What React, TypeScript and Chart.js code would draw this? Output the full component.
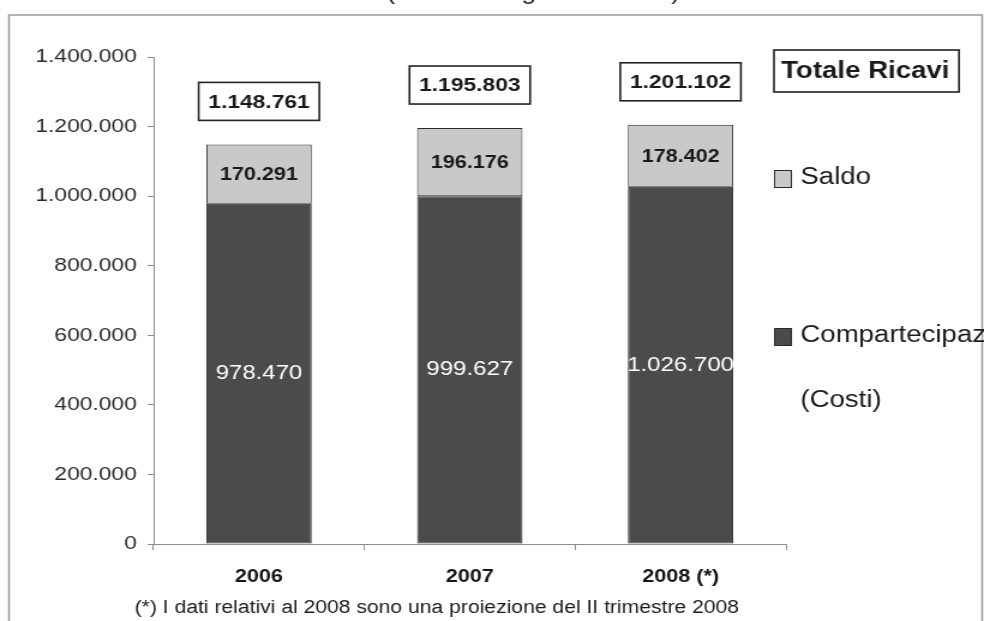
import React, { useEffect, useRef } from "react";
import { Chart, registerables } from "chart.js";

Chart.register(...registerables);

// Values in thousands of euro
const years = ["2006", "2007", "2008 (*)"];
const costi = [978470, 999627, 1026700];
const saldo = [170291, 196176, 178402];
const totaleRicavi = [1148761, 1195803, 1201102];
const yTicks = [0, 200000, 400000, 600000, 800000, 1000000, 1200000, 1400000];

const subtitle = "(valori in migliaia di euro)";
const footnote = "(*) I dati relativi al 2008 sono una proiezione del II trimestre 2008";
const legendTotal = "Totale Ricavi";
const legendSaldo = "Saldo";
const legendCosti = ["Compartecipaz", "(Costi)"];

const FONT = "'Liberation Sans', Arial, sans-serif";
const DARK = "#4b4b4b";
const LIGHT = "#c9c9c9";
const OUTLINE = "#2a2a2a";
const AXIS = "#8c8c8c";

// Logical drawing width; the canvas is widened to the page width by CSS
const LOGICAL_W = 820;
const LOGICAL_H = 621;

const fmt = (n: number) => String(n).replace(/\B(?=(\d{3})+(?!\d))/g, ".");

const decorations = {
  id: "decorations",
  afterDatasetsDraw(chart: any) {
    const { ctx } = chart;
    const costMeta = chart.getDatasetMeta(0);
    const saldoMeta = chart.getDatasetMeta(1);
    ctx.save();
    ctx.textAlign = "center";
    ctx.textBaseline = "middle";

    // values inside the segments
    costMeta.data.forEach((el: any, i: number) => {
      ctx.font = `20px ${FONT}`;
      ctx.fillStyle = "#ffffff";
      ctx.fillText(fmt(costi[i]), el.x, (el.y + el.base) / 2);
    });
    saldoMeta.data.forEach((el: any, i: number) => {
      ctx.font = `bold 18px ${FONT}`;
      ctx.fillStyle = "#1a1a1a";
      ctx.fillText(fmt(saldo[i]), el.x, (el.y + el.base) / 2 + 1);
    });

    // total revenue boxes above each bar
    saldoMeta.data.forEach((el: any, i: number) => {
      const label = fmt(totaleRicavi[i]);
      ctx.font = `bold 19px ${FONT}`;
      const w = ctx.measureText(label).width + 16;
      const h = 38;
      const cy = el.y - 43;
      ctx.fillStyle = "#ffffff";
      ctx.fillRect(el.x - w / 2, cy - h / 2, w, h);
      ctx.lineWidth = 1.6;
      ctx.strokeStyle = "#222222";
      ctx.strokeRect(el.x - w / 2, cy - h / 2, w, h);
      ctx.fillStyle = "#1a1a1a";
      ctx.fillText(label, el.x, cy + 1);
    });
    ctx.restore();
  },
  afterDraw(chart: any) {
    const { ctx } = chart;
    ctx.save();

    // frame around the chart
    ctx.strokeStyle = "#9a9a9a";
    ctx.lineWidth = 1.5;
    ctx.beginPath();
    ctx.moveTo(7.5, LOGICAL_H + 5);
    ctx.lineTo(7.5, 15);
    ctx.lineTo(818.5, 15);
    ctx.lineTo(818.5, LOGICAL_H + 5);
    ctx.stroke();

    // heading line above the frame, mostly outside the page
    ctx.fillStyle = "#222222";
    ctx.font = `22px ${FONT}`;
    ctx.textAlign = "left";
    ctx.textBaseline = "bottom";
    ctx.fillText(subtitle, 322, 4);

    // legend
    const lx = 645;
    ctx.font = `bold 23px ${FONT}`;
    ctx.textBaseline = "middle";
    const tw = ctx.measureText(legendTotal).width;
    ctx.fillStyle = "#ffffff";
    ctx.fillRect(lx, 50, tw + 14, 42);
    ctx.lineWidth = 1.6;
    ctx.strokeStyle = "#222222";
    ctx.strokeRect(lx, 50, tw + 14, 42);
    ctx.fillStyle = "#1a1a1a";
    ctx.fillText(legendTotal, lx + 6, 72);

    ctx.lineWidth = 1;
    ctx.strokeStyle = OUTLINE;
    ctx.fillStyle = LIGHT;
    ctx.fillRect(lx, 170, 15, 18);
    ctx.strokeRect(lx + 0.5, 170.5, 14, 17);
    ctx.fillStyle = DARK;
    ctx.fillRect(lx, 328, 15, 18);
    ctx.strokeRect(lx + 0.5, 328.5, 14, 17);

    ctx.font = `23px ${FONT}`;
    ctx.fillStyle = "#1a1a1a";
    ctx.fillText(legendSaldo, 667, 178);
    ctx.fillText(legendCosti[0], 667, 336);
    ctx.fillText(legendCosti[1], 667, 401);

    // footnote
    ctx.font = `17.6px ${FONT}`;
    ctx.textAlign = "center";
    ctx.fillText(footnote, 364, 608);
    ctx.restore();
  },
};

export default function App() {
  const ref = useRef<HTMLCanvasElement | null>(null);

  useEffect(() => {
    if (!ref.current) return;
    const chart = new Chart(ref.current, {
      type: "bar",
      data: {
        labels: years,
        datasets: [
          {
            label: "Compartecipazioni (Costi)",
            data: costi,
            backgroundColor: DARK,
            borderColor: OUTLINE,
            borderWidth: 1,
            borderSkipped: false,
          },
          {
            label: "Saldo",
            data: saldo,
            backgroundColor: LIGHT,
            borderColor: OUTLINE,
            borderWidth: 1,
            borderSkipped: false,
          },
        ],
      },
      options: {
        responsive: false,
        animation: false,
        layout: { padding: { top: 57, right: 165, bottom: 0, left: 0 } },
        plugins: {
          legend: { display: false },
          tooltip: { enabled: false },
          title: { display: false },
        },
        datasets: { bar: { barPercentage: 0.5, categoryPercentage: 1 } },
        scales: {
          x: {
            stacked: true,
            offset: true,
            grid: {
              offset: true,
              drawOnChartArea: false,
              drawTicks: true,
              tickLength: 6,
              color: AXIS,
            },
            border: { display: true, color: AXIS, width: 1 },
            ticks: {
              padding: 16,
              color: "#151515",
              font: { family: FONT, size: 18, weight: "bold" },
            },
            afterFit: (scale: any) => {
              scale.height = 77;
            },
          },
          y: {
            stacked: true,
            min: 0,
            max: 1400000,
            afterBuildTicks: (scale: any) => {
              scale.ticks = yTicks.map((v) => ({ value: v }));
            },
            grid: {
              drawOnChartArea: false,
              drawTicks: true,
              tickLength: 5,
              color: AXIS,
            },
            border: { display: true, color: AXIS, width: 1 },
            ticks: {
              padding: 9,
              color: "#2a2a2a",
              font: { family: FONT, size: 19 },
              callback: (v: any) => fmt(Number(v)),
            },
            afterFit: (scale: any) => {
              scale.width = 128;
            },
          },
        },
      },
      plugins: [decorations],
    });
    return () => chart.destroy();
  }, []);

  return (
    <div style={{ position: "fixed", left: 0, top: 0, width: 984, height: 621, background: "#ffffff" }}>
      <canvas
        ref={ref}
        width={LOGICAL_W}
        height={LOGICAL_H}
        style={{ display: "block", width: "984px", height: "621px" }}
      />
    </div>
  );
}
